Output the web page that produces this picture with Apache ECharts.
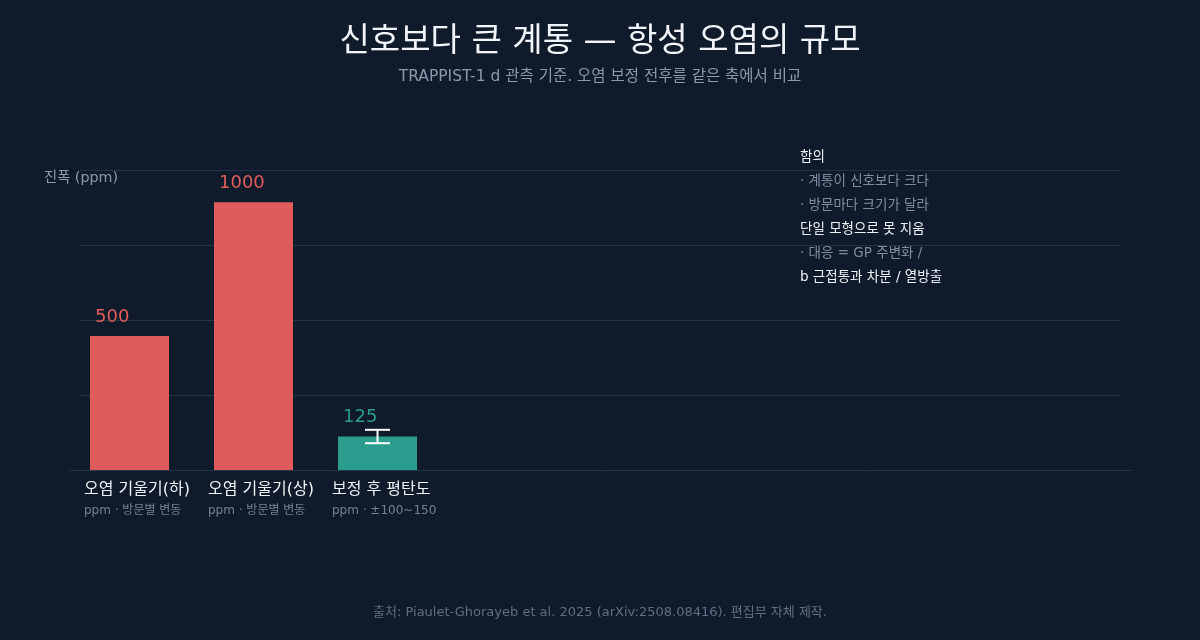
<!DOCTYPE html>
<html><head><meta charset="utf-8">
<script src="https://cdn.jsdelivr.net/npm/echarts@6/dist/echarts.min.js"></script>
<style>html,body{margin:0;padding:0;background:#0f1b2a;}#c{width:1200px;height:640px;}</style>
</head><body><div id="c"></div>
<script>
const categories = ['오염 기울기(하)', '오염 기울기(상)', '보정 후 평탄도'];
const subLabels = ['ppm · 방문별 변동', 'ppm · 방문별 변동', 'ppm · ±100~150'];
const values = [500, 1000, 125];
const errLow = [null, null, 100];
const errHigh = [null, null, 150];
const barKinds = ['raw', 'raw', 'corrected'];
const yMax = 1120;
const yStep = 280;

const FONT = '"DejaVu Sans", "Noto Sans CJK KR", sans-serif';
const RED = '#e05c5c', TEAL = '#2a9d8f';
const colorOf = k => k === 'corrected' ? TEAL : RED;

const chart = echarts.init(document.getElementById('c'));
const common = { top: 170, height: 300 };
chart.setOption({
  backgroundColor: '#0f1b2a',
  textStyle: { fontFamily: FONT },
  title: [
    { text: '신호보다 큰 계통 — 항성 오염의 규모', left: 'center', top: 21,
      textStyle: { color: '#f1f4f8', fontSize: 33, fontWeight: 'normal', fontFamily: FONT } },
    { text: 'TRAPPIST-1 d 관측 기준. 오염 보정 전후를 같은 축에서 비교', left: 'center', top: 64,
      textStyle: { color: '#8a9aae', fontSize: 15.5, fontWeight: 'normal', fontFamily: FONT } },
    { text: '출처: Piaulet-Ghorayeb et al. 2025 (arXiv:2508.08416). 편집부 자체 제작.', left: 'center', top: 601,
      textStyle: { color: '#5e6f83', fontSize: 13, fontWeight: 'normal', fontFamily: FONT } }
  ],
  grid: [
    Object.assign({ left: 67.5, width: 372 }, common),
    Object.assign({ left: 80, right: 79 }, common),
    Object.assign({ left: 70, right: 69 }, common),
    Object.assign({ left: 22, width: 372 }, common)
  ],
  xAxis: [
    { gridIndex: 0, type: 'category', data: categories, show: false },
    { gridIndex: 1, type: 'value', show: false },
    { gridIndex: 2, type: 'category', data: [''], axisLine: { show: true, lineStyle: { color: '#22384b', width: 1 } },
      axisTick: { show: false }, axisLabel: { show: false } },
    { gridIndex: 3, type: 'category', data: categories, axisLine: { show: false }, axisTick: { show: false },
      axisLabel: {
        show: true, align: 'left', margin: 10, interval: 0,
        formatter: (v, i) => '{n|' + v + '}\n{s|' + subLabels[i] + '}',
        rich: {
          n: { color: '#eef2f6', fontSize: 16, lineHeight: 20, fontFamily: FONT },
          s: { color: '#718296', fontSize: 12, lineHeight: 22, fontFamily: FONT }
        }
      } }
  ],
  yAxis: [
    { gridIndex: 0, type: 'value', min: 0, max: yMax, interval: yStep, show: false },
    { gridIndex: 1, type: 'value', min: 0, max: yMax, interval: yStep, axisLine: { show: false },
      axisTick: { show: false }, axisLabel: { show: false },
      splitLine: { show: true, lineStyle: { color: '#1f3446', width: 1 } } },
    { gridIndex: 2, type: 'value', show: false },
    { gridIndex: 3, type: 'value', show: false }
  ],
  graphic: [
    { type: 'text', left: 44, top: 171, style: { text: '진폭 (ppm)', fill: '#8a9aae', font: '14.3px ' + FONT } },
    { type: 'text', left: 800, top: 151, style: {
      text: '{w|함의}\n{g|· 계통이 신호보다 크다}\n{g|· 방문마다 크기가 달라}\n{w|단일 모형으로 못 지움}\n{g|· 대응 = GP 주변화 /}\n{w|b 근접통과 차분 / 열방출}',
      rich: {
        w: { fill: '#eef2f6', fontSize: 13.5, lineHeight: 24, fontFamily: FONT },
        g: { fill: '#7d8ea2', fontSize: 13.5, lineHeight: 24, fontFamily: FONT }
      }
    } }
  ],
  series: [
    { type: 'bar', xAxisIndex: 0, yAxisIndex: 0, barWidth: 79,
      data: values.map((v, i) => ({ value: v, itemStyle: { color: colorOf(barKinds[i]) },
        label: { color: colorOf(barKinds[i]) } })),
      label: { show: true, position: [5, -19], align: 'left', verticalAlign: 'middle',
        fontSize: 18, fontFamily: FONT, fontWeight: 'normal' } },
    { type: 'custom', xAxisIndex: 0, yAxisIndex: 0, z: 5,
      data: errLow.map((lo, i) => [i, lo, errHigh[i]]).filter(d => d[1] != null),
      renderItem: (params, api) => {
        const x = api.coord([api.value(0), 0])[0];
        const yl = api.coord([api.value(0), api.value(1)])[1];
        const yh = api.coord([api.value(0), api.value(2)])[1];
        const hw = 12.5;
        const st = { stroke: '#ffffff', lineWidth: 2 };
        return { type: 'group', children: [
          { type: 'line', shape: { x1: x, y1: yl, x2: x, y2: yh }, style: st },
          { type: 'line', shape: { x1: x - hw, y1: yl, x2: x + hw, y2: yl }, style: st },
          { type: 'line', shape: { x1: x - hw, y1: yh, x2: x + hw, y2: yh }, style: st }
        ] };
      } }
  ]
});
</script></body></html>
